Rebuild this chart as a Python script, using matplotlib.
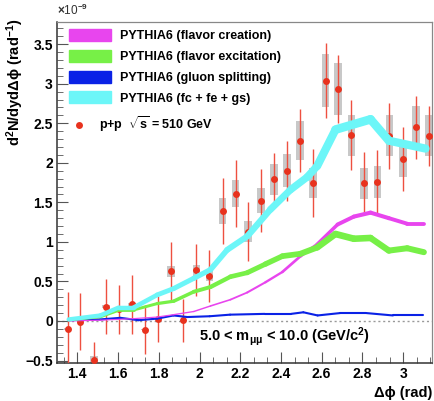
import matplotlib
matplotlib.use('Agg')
import matplotlib.pyplot as plt
import numpy as np
from matplotlib.collections import LineCollection
from matplotlib.patches import Patch
from matplotlib.lines import Line2D
from matplotlib.ticker import MultipleLocator, AutoMinorLocator, FuncFormatter

plt.rcParams['font.family'] = ['Liberation Sans', 'DejaVu Sans']
plt.rcParams['font.weight'] = 'bold'
plt.rcParams['mathtext.fontset'] = 'custom'
plt.rcParams['mathtext.rm'] = 'Liberation Sans:bold'
plt.rcParams['mathtext.it'] = 'Liberation Sans:bold'
plt.rcParams['mathtext.bf'] = 'Liberation Sans:bold'

# ---- data points (units of 1e-9) ----
dphi = [1.352, 1.415, 1.480, 1.542, 1.605, 1.669, 1.731, 1.797, 1.859, 1.921,
        1.985, 2.049, 2.113, 2.177, 2.237, 2.303, 2.366, 2.431, 2.492, 2.558,
        2.619, 2.681, 2.746, 2.808, 2.874, 2.933, 2.999, 3.064, 3.126]
yield_pp = [-0.10, -0.01, -0.49, 0.18, 0.15, 0.21, -0.11, 0.02, 0.63, 0.01,
            0.64, 0.57, 1.39, 1.61, 1.13, 1.52, 1.79, 1.90, 2.28, 1.74,
            3.04, 2.93, 2.35, 1.74, 1.76, 2.34, 2.05, 2.45, 2.34]
stat_err = [0.47, 0.36, 0.23, 0.35, 0.31, 0.37, 0.31, 0.29, 0.37, 0.27,
            0.33, 0.33, 0.42, 0.42, 0.37, 0.40, 0.33, 0.38, 0.40, 0.43,
            0.47, 0.43, 0.44, 0.40, 0.40, 0.42, 0.40, 0.40, 0.38]
syst_err = [0.01, 0.00, 0.05, 0.02, 0.02, 0.02, 0.01, 0.00, 0.07, 0.00,
            0.07, 0.06, 0.16, 0.17, 0.13, 0.16, 0.20, 0.21, 0.25, 0.19,
            0.34, 0.33, 0.26, 0.20, 0.20, 0.26, 0.23, 0.27, 0.26]

# ---- PYTHIA6 curves ----
sum_x = [1.357, 1.513, 1.603, 1.677, 1.792, 1.873, 1.972, 2.054, 2.136, 2.234,
         2.348, 2.447, 2.529, 2.578, 2.668, 2.840, 2.930, 3.110]
sum_y = [0.02, 0.07, 0.17, 0.17, 0.33, 0.41, 0.54, 0.65, 0.90, 1.07,
         1.41, 1.66, 1.82, 1.96, 2.42, 2.55, 2.28, 2.18]

fe_x = [1.357, 1.513, 1.611, 1.677, 1.792, 1.873, 1.972, 2.054, 2.152, 2.234,
        2.324, 2.407, 2.496, 2.578, 2.668, 2.758, 2.840, 2.930, 3.020, 3.102]
fe_y = [0.01, 0.05, 0.14, 0.14, 0.22, 0.25, 0.37, 0.43, 0.56, 0.61,
        0.72, 0.82, 0.85, 0.93, 1.10, 1.04, 1.05, 0.89, 0.92, 0.87]

fc_x = [1.357, 1.513, 1.677, 1.792, 1.873, 1.972, 2.054, 2.152, 2.234, 2.324,
        2.407, 2.496, 2.578, 2.678, 2.758, 2.840, 2.930, 3.020, 3.102]
fc_y = [0.00, 0.01, 0.03, 0.05, 0.08, 0.12, 0.19, 0.27, 0.36, 0.49,
        0.62, 0.82, 0.97, 1.22, 1.32, 1.37, 1.30, 1.23, 1.23]

gs_x = [1.357, 1.513, 1.611, 1.700, 1.792, 1.873, 1.940, 2.050, 2.150, 2.320,
        2.450, 2.510, 2.580, 2.690, 2.820, 2.950, 3.100]
gs_y = [0.01, 0.02, 0.04, 0.01, 0.03, 0.07, 0.05, 0.06, 0.08, 0.09,
        0.09, 0.11, 0.07, 0.10, 0.10, 0.07, 0.07]

c_fc = '#e845ee'
c_fe = '#77f047'
c_gs = '#0a22e6'
c_sum = '#6cf6f8'
c_pt = '#e8321e'


def band(ax, x, y, color, w0, k):
    pts = np.column_stack([x, y])
    segs = np.stack([pts[:-1], pts[1:]], axis=1)
    ym = 0.5 * (np.array(y[:-1]) + np.array(y[1:]))
    lc = LineCollection(segs, colors=color, linewidths=w0 + k * ym,
                        capstyle='round', joinstyle='round', zorder=5)
    ax.add_collection(lc)


fig = plt.figure(figsize=(4.35, 4.01), dpi=100)
ax = fig.add_axes([0.131, 0.095, 0.862, 0.850])

ax.axhline(0, color='#999999', lw=1, ls=(0, (1.5, 2)), zorder=1)

ax.bar(dphi, 2 * np.array(syst_err), bottom=np.array(yield_pp) - np.array(syst_err),
       width=0.038, color='#c8c8c8', zorder=2)
ax.errorbar(dphi, yield_pp, yerr=stat_err, fmt='none', ecolor='#ee5040',
            elinewidth=1.0, capsize=0, zorder=3)
ax.plot(dphi, yield_pp, 'o', color=c_pt, ms=5, mec='none', zorder=4)

band(ax, gs_x, gs_y, c_gs, 1.5, 0.0)
band(ax, fc_x, fc_y, c_fc, 0.8, 1.6)
band(ax, fe_x, fe_y, c_fe, 1.6, 3.0)
band(ax, sum_x, sum_y, c_sum, 3.0, 1.3)

ax.set_xlim(1.3, np.pi)
ax.set_ylim(-0.53, 3.78)

fmt = FuncFormatter(lambda v, p: ('%g' % round(v, 2)).replace('-', '\u2212'))
ax.xaxis.set_major_locator(MultipleLocator(0.2))
ax.xaxis.set_minor_locator(AutoMinorLocator(3))
ax.yaxis.set_major_locator(MultipleLocator(0.5))
ax.yaxis.set_minor_locator(AutoMinorLocator(5))
ax.xaxis.set_major_formatter(fmt)
ax.yaxis.set_major_formatter(fmt)
ax.tick_params(which='both', direction='in', top=False, right=False,
               color='#555555', labelsize=10, pad=3)
ax.tick_params(which='major', length=8)
ax.tick_params(which='minor', length=4)
for lab in ax.get_xticklabels() + ax.get_yticklabels():
    lab.set_fontweight('bold')

for s in ['left', 'bottom']:
    ax.spines[s].set_color('#333333')
    ax.spines[s].set_linewidth(1.1)
for s in ['top', 'right']:
    ax.spines[s].set_color('#888888')
    ax.spines[s].set_linewidth(0.9)

# axis titles placed in figure coordinates, ROOT style
fig.text(15 / 435, 1 - 19 / 401, r'd$^{2}$N/dydΔϕ (rad$^{-1}$)', fontsize=10.5,
         fontweight='bold', rotation=90, ha='center', va='top')
fig.text(432 / 435, 1 - 393 / 401, 'Δϕ (rad)', fontsize=10.5,
         fontweight='bold', ha='right', va='center')

fig.text(0.131, 0.955, r'$\times$10$^{-9}$', fontsize=8.5, fontweight='normal',
         ha='left', va='bottom', color='#333333')

ax.text(0.378, 0.077, r'5.0 < m$_{\mu\mu}$ < 10.0 (GeV/c$^{2}$)',
        transform=ax.transAxes, fontsize=10.5, fontweight='bold', va='center')

h1 = [Patch(color=c_fc), Patch(color=c_fe), Patch(color=c_gs), Patch(color=c_sum)]
l1 = ['PYTHIA6 (flavor creation)', 'PYTHIA6 (flavor excitation)',
      'PYTHIA6 (gluon splitting)', 'PYTHIA6 (fc + fe + gs)']
leg1 = ax.legend(h1, l1, loc='upper left', bbox_to_anchor=(0.032, 0.979),
                 frameon=False, borderpad=0, borderaxespad=0,
                 prop={'size': 9, 'weight': 'bold'},
                 handlelength=3.4, handleheight=1.1, labelspacing=0.6,
                 handletextpad=0.65)
ax.add_artist(leg1)
h2 = [Line2D([], [], ls='none', marker='o', color=c_pt, ms=5, mec='none')]
leg2 = ax.legend(h2, [r'p+p  $\sqrt{s}$ = 510 GeV'], loc='center left',
                 bbox_to_anchor=(0.035, 0.70), frameon=False, borderpad=0,
                 borderaxespad=0, prop={'size': 9, 'weight': 'bold'},
                 handlelength=1.4, handletextpad=0.9)

fig.savefig('out.png', dpi=100)
